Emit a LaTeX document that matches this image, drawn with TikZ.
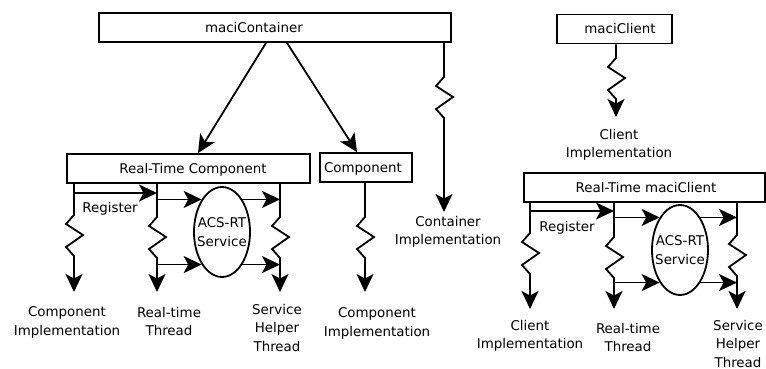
\documentclass[tikz,border=0pt]{standalone}
\usepackage{fontspec}
\setmainfont{DejaVu Sans}
\usetikzlibrary{arrows.meta,shapes.geometric}
\begin{document}
\begin{tikzpicture}[x=1pt,y=-1pt,
  every node/.append style={font=\fontsize{13.4}{18.5}\selectfont},
  line width=1.8pt,
  box/.style={draw, rectangle, inner sep=0pt, minimum height=29pt},
  boxtext/.style={inner sep=0pt, anchor=base},
  svc/.style={draw, ellipse, inner sep=0pt, minimum width=56pt, minimum height=90pt},
  svctext/.style={align=center, inner sep=0pt},
  txt/.style={align=center, inner sep=0pt, anchor=north},
  arr/.style={-{Stealth[length=18pt,width=17pt,inset=4.5pt]}},
  % vertical line with a lightning-style zigzag starting at height #1
  zig/.style={to path={-- (\tikztostart |- 0,#1) -- ++(-8,9) -- ++(17,11)
      -- ++(-17,12) -- ++(8,9) -- (\tikztotarget) \tikztonodes}},
]
\useasboundingbox (0,0) rectangle (766,369);

% ---------------- boxes ----------------
\node[box, minimum width=352pt] (mc)  at (275,27.5)  {};
\node[boxtext] (mcT)  at (254,32.5)  {maciContainer};
\node[box, minimum width=243pt] (rtc) at (188.5,168.5) {};
\node[boxtext] (rtcT) at (193,173.5) {Real-Time Component};
\node[box, minimum width=92pt]  (cmp) at (366,167.5) {};
\node[boxtext] (cmpT) at (363,172.5) {Component};
\node[box, minimum width=115pt] (mcl) at (614.5,29)  {};
\node[boxtext] (mclT) at (620,34)    {maciClient};
\node[box, minimum width=241pt] (rtm) at (644.5,187.5) {};
\node[boxtext] (rtmT) at (646,192.5) {Real-Time maciClient};

% ---------------- services ----------------
\node[svc] (e1) at (222,232) {};
\node[svctext] (e1T) at (e1.center) {ACS-RT\\Service};
\node[svc] (e2) at (680,250) {};
\node[svctext] (e2T) at (e2.center) {ACS-RT\\Service};

% ---------------- labels ----------------
\node[txt] (lA) at (67,306)  {Component\\Implementation};
\node[txt] (lB) at (169,306) {Real-time\\Thread};
\node[txt] (lC) at (277,303) {Service\\Helper\\Thread};
\node[txt] (lD) at (377,307) {Component\\Implementation};
\node[txt] (lE) at (448,215) {Container\\Implementation};
\node[txt] (lF) at (619,128) {Client\\Implementation};
\node[txt] (lG) at (530,319) {Client\\Implementation};
\node[txt] (lH) at (628,322) {Real-time\\Thread};
\node[txt] (lI) at (738,319) {Service\\Helper\\Thread};
\node[boxtext] (rg1) at (110,212) {Register};
\node[boxtext] (rg2) at (567,231) {Register};

% ---------------- thread end points ----------------
\coordinate (k0) at (mc.south -| 444,0);   \coordinate (k1) at (444,212);
\coordinate (m0) at (mcl.south -| 616,0);  \coordinate (m1) at (616,117);
\coordinate (a0) at (rtc.south -| 74,0);   \coordinate (a1) at (74,292);
\coordinate (b0) at (rtc.south -| 157,0);  \coordinate (b1) at (157,292);
\coordinate (c0) at (rtc.south -| 280,0);  \coordinate (c1) at (280,292);
\coordinate (d0) at (cmp.south -| 365,0);  \coordinate (d1) at (365,292);
\coordinate (p0) at (rtm.south -| 530,0);  \coordinate (p1) at (530,309);
\coordinate (q0) at (rtm.south -| 614,0);  \coordinate (q1) at (614,309);
\coordinate (r0) at (rtm.south -| 737,0);  \coordinate (r1) at (737,309);

% ---------------- connectors ----------------
\draw[arr] (mc.south -| 266,0) -- (rtc.north -| 198,0);
\draw[arr] (mc.south -| 287,0) -- (cmp.north -| 357,0);
\draw[arr] (k0) to[zig=77] (k1);
\draw[arr] (m0) to[zig=58] (m1);

\draw[arr] (a0) to[zig=215] (a1);
\draw[arr] (b0) to[zig=217] (b1);
\draw[arr] (c0) to[zig=217] (c1);
\draw[arr] (d0) to[zig=217] (d1);
\draw[arr] (a0 |- 0,193) -- (b0 |- 0,193);
\draw[arr] (b0 |- e1.122) -- (e1.122);
\draw[arr] (b0 |- e1.238) -- (e1.238);
\draw[arr] (e1.58)  -- (c0 |- e1.58);
\draw[arr] (e1.302) -- (c0 |- e1.302);

\draw[arr] (p0) to[zig=233] (p1);
\draw[arr] (q0) to[zig=237] (q1);
\draw[arr] (r0) to[zig=235] (r1);
\draw[arr] (p0 |- 0,211) -- (q0 |- 0,211);
\draw[arr] (q0 |- e2.122) -- (e2.122);
\draw[arr] (q0 |- e2.238) -- (e2.238);
\draw[arr] (e2.58)  -- (r0 |- e2.58);
\draw[arr] (e2.302) -- (r0 |- e2.302);
\end{tikzpicture}
\end{document}
